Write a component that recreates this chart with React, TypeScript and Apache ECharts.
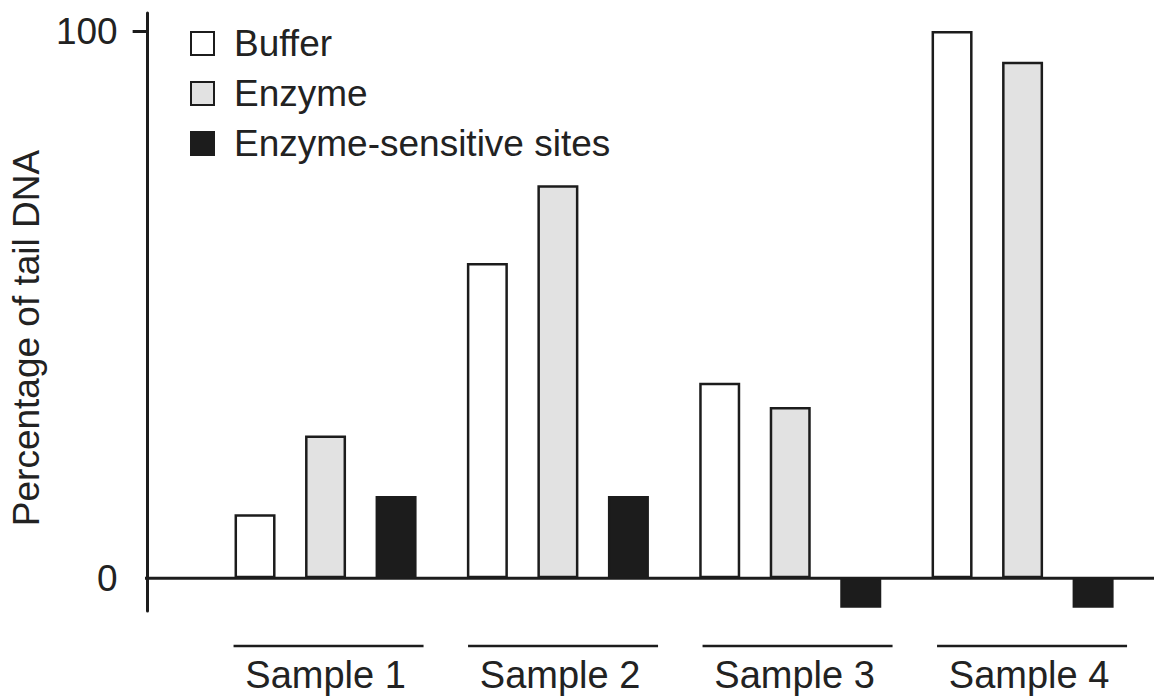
import React, { useEffect, useRef } from "react";
import * as echarts from "echarts";

const categories = ["Sample 1", "Sample 2", "Sample 3", "Sample 4"];
const bufferValues = [11.7, 57.6, 35.7, 100];
const enzymeValues = [26.1, 71.8, 31.3, 94.4];
const sensitiveValues = [15.0, 15.0, -5.4, -5.4];
const yLabelValues = [0, 100];
const yTickValues = [100];

const FONT = '"Liberation Sans", Arial, Helvetica, sans-serif';
const INK = "#1c1c1c";

export default function App() {
  const ref = useRef<HTMLDivElement>(null);

  useEffect(() => {
    document.body.style.margin = "0";
    const chart = echarts.init(ref.current!, null, { renderer: "svg" });
    const barStyle = (fill: string) => ({
      color: fill,
      borderColor: INK,
      borderWidth: 2.5,
    });
    chart.setOption({
      animation: false,
      backgroundColor: "#ffffff",
      textStyle: { fontFamily: FONT, color: "#222" },
      grid: [
        { left: 206.75, right: 15.25, top: 13, bottom: 85 },
        { left: 208.3, right: 7.7, top: 600, bottom: 50 },
      ],
      legend: {
        orient: "vertical",
        left: 190,
        top: 25,
        padding: 0,
        itemWidth: 23,
        itemHeight: 23,
        itemGap: 13,
        icon: "rect",
        textStyle: {
          fontSize: 37,
          fontFamily: FONT,
          color: "#222",
          padding: [0, 0, 0, 15],
        },
        data: ["Buffer", "Enzyme", "Enzyme-sensitive sites"],
      },
      xAxis: [
        {
          type: "category",
          gridIndex: 0,
          data: categories,
          axisLine: { show: false },
          axisTick: { show: false },
          axisLabel: { show: false },
          splitLine: { show: false },
        },
        {
          type: "category",
          gridIndex: 1,
          data: categories,
          position: "bottom",
          axisLine: { show: false },
          axisTick: { show: false },
          axisLabel: {
            show: true,
            fontSize: 38,
            fontFamily: FONT,
            color: "#222",
            margin: 10,
          },
          splitLine: { show: false },
        },
      ],
      yAxis: [
        {
          type: "value",
          gridIndex: 0,
          min: -6,
          max: 103.3,
          offset: 61.75,
          name: "Percentage of tail DNA",
          nameLocation: "middle",
          nameGap: 95,
          nameTextStyle: {
            fontSize: 37,
            fontFamily: FONT,
            color: "#222",
            padding: [0, 52, 0, 0],
          },
          axisLine: { show: true, lineStyle: { color: INK, width: 3 } },
          axisTick: {
            show: true,
            customValues: yTickValues,
            length: 15,
            lineStyle: { color: INK, width: 3 },
          },
          axisLabel: {
            show: true,
            customValues: yLabelValues,
            margin: 30,
            fontSize: 37,
            fontFamily: FONT,
            color: "#222",
          },
          splitLine: { show: false },
        },
        {
          type: "value",
          gridIndex: 1,
          show: false,
        },
      ],
      series: [
        {
          name: "Buffer",
          type: "bar",
          xAxisIndex: 0,
          yAxisIndex: 0,
          data: bufferValues,
          barWidth: 41,
          barGap: "72%",
          itemStyle: barStyle("#ffffff"),
        },
        {
          name: "Enzyme",
          type: "bar",
          xAxisIndex: 0,
          yAxisIndex: 0,
          data: enzymeValues,
          barWidth: 41,
          barGap: "72%",
          itemStyle: barStyle("#e2e2e2"),
        },
        {
          name: "Enzyme-sensitive sites",
          type: "bar",
          xAxisIndex: 0,
          yAxisIndex: 0,
          data: sensitiveValues,
          barWidth: 41,
          barGap: "72%",
          itemStyle: barStyle(INK),
        },
      ],
    });

    // Zero baseline across the full width and underlines for the sample labels
    const zeroY = chart.convertToPixel({ yAxisIndex: 0 }, 0) as number;
    const axisX = 145;
    const graphics: any[] = [
      {
        type: "line",
        shape: { x1: axisX, y1: zeroY, x2: 1154, y2: zeroY },
        style: { stroke: INK, lineWidth: 3 },
        z: 10,
      },
    ];
    categories.forEach((c) => {
      const cx = chart.convertToPixel({ xAxisIndex: 1 }, c) as number;
      graphics.push({
        type: "line",
        shape: { x1: cx - 92, y1: 646, x2: cx + 98, y2: 646 },
        style: { stroke: INK, lineWidth: 2.5 },
      });
    });
    chart.setOption({ graphic: graphics });

    return () => chart.dispose();
  }, []);

  return <div ref={ref} style={{ width: 1154, height: 696 }} />;
}
